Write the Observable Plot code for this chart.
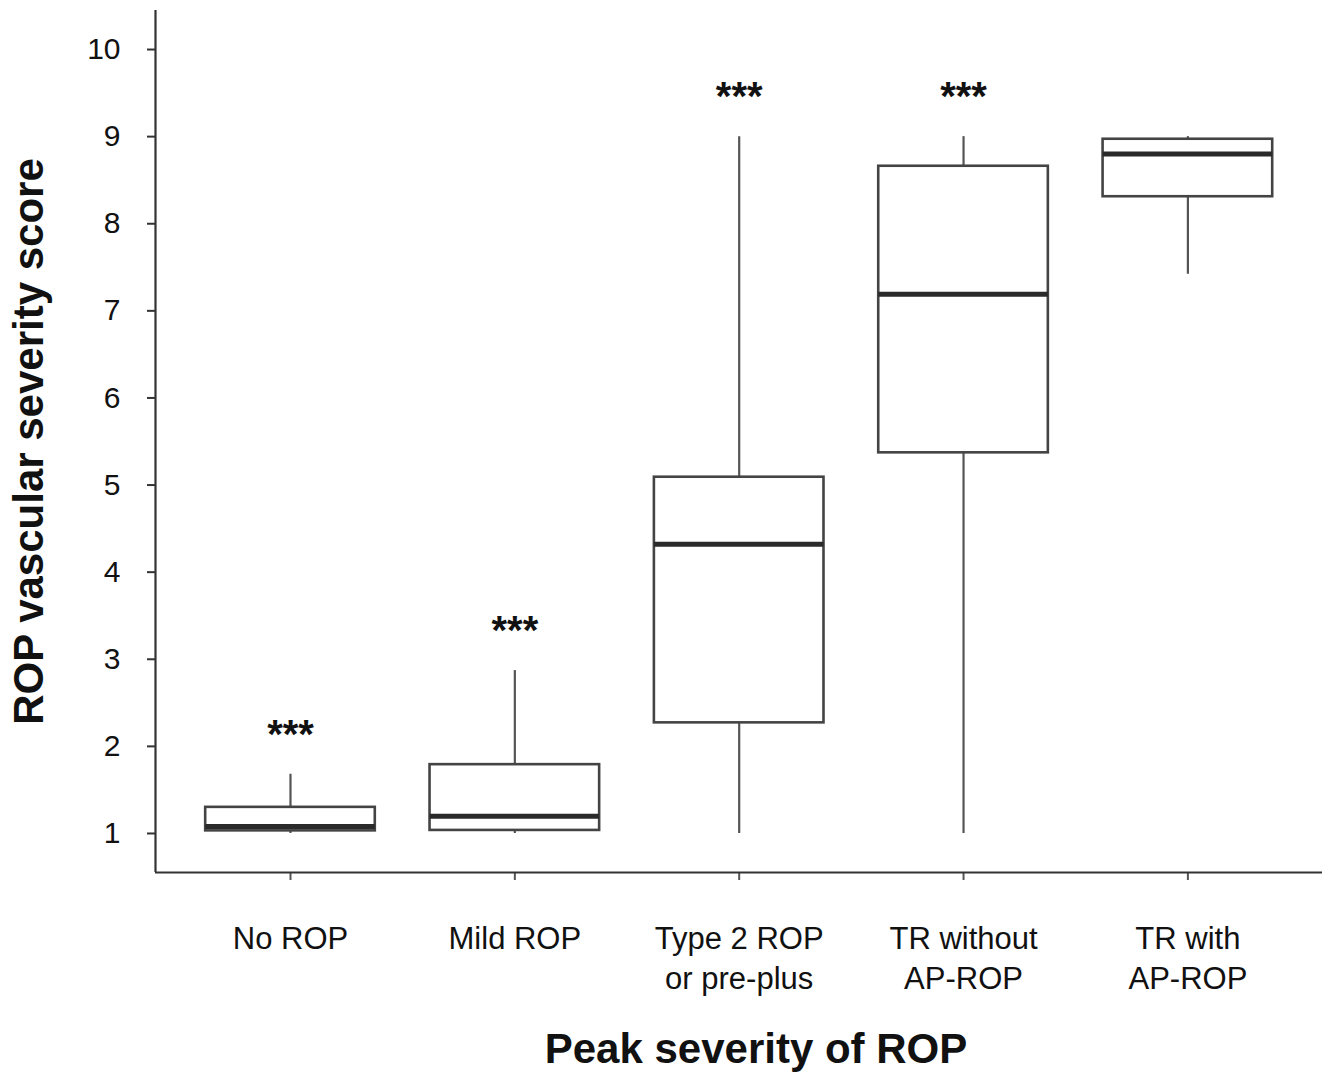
<!DOCTYPE html>
<html><head><meta charset="utf-8">
<script src="https://cdn.jsdelivr.net/npm/d3@7"></script>
<script src="https://cdn.jsdelivr.net/npm/@observablehq/plot@0.6"></script>
<style>body{margin:0;background:#fff;} svg{display:block}</style>
</head><body><div id="chart"></div>
<script>
const categories = ["No ROP", "Mild ROP", "Type 2 ROP\nor pre-plus", "TR without\nAP-ROP", "TR with\nAP-ROP"];
const whiskerLow  = [1.00, 1.00, 1.00, 1.00, 7.42];
const q1          = [1.03, 1.035, 2.27, 5.37, 8.31];
const median      = [1.08, 1.197, 4.32, 7.19, 8.80];
const q3          = [1.30, 1.79, 5.09, 8.66, 8.97];
const whiskerHigh = [1.68, 2.87, 9.00, 9.00, 9.00];
const significance = ["***", "***", "***", "***", ""];
const yTicks = [1, 2, 3, 4, 5, 6, 7, 8, 9, 10];
const yTitle = "ROP vascular severity score";
const xTitle = "Peak severity of ROP";

const rows = categories.map((c, i) => ({
  i, cat: c, lo: whiskerLow[i], q1: q1[i], med: median[i], q3: q3[i], hi: whiskerHigh[i], sig: significance[i]
}));
const half = 0.378;
const xDomain = [-0.6017, 4.60];
const yDomain = [0.552, 10.448];
const font = '"Liberation Sans", Arial, Helvetica, sans-serif';

const chart = Plot.plot({
  width: 1329, height: 1084,
  marginLeft: 155, marginRight: 7, marginTop: 10, marginBottom: 212,
  style: {fontFamily: font, color: "#111", background: "#fff", overflow: "visible"},
  x: {type: "linear", domain: xDomain},
  y: {type: "linear", domain: yDomain},
  marks: [
    Plot.axisY({ticks: yTicks, tickSize: 8, tickPadding: 27, fontSize: 30, label: null, stroke: "#333", strokeWidth: 2}),
    Plot.axisX({ticks: rows.map(d => d.i), tickFormat: i => categories[i], tickSize: 8, tickPadding: 40, fontSize: 31, lineHeight: 1.3, label: null, stroke: "#555", strokeWidth: 2}),
    Plot.ruleX([xDomain[0]], {stroke: "#333", strokeWidth: 2.2}),
    Plot.ruleY([yDomain[0]], {stroke: "#333", strokeWidth: 2.2}),
    // whiskers
    Plot.ruleX(rows, {x: "i", y1: "q3", y2: "hi", stroke: "#555", strokeWidth: 2.2}),
    Plot.ruleX(rows, {x: "i", y1: "lo", y2: "q1", stroke: "#555", strokeWidth: 2.2}),
    // boxes
    Plot.rect(rows, {x1: d => d.i - half, x2: d => d.i + half, y1: "q1", y2: "q3", fill: "white", stroke: "#444", strokeWidth: 2.6}),
    // medians
    Plot.ruleY(rows, {y: "med", x1: d => d.i - half, x2: d => d.i + half, stroke: "#2a2a2a", strokeWidth: 5}),
    // significance stars
    Plot.text(rows.filter(d => d.sig), {x: "i", y: d => d.hi + 0.45, text: "sig", fontSize: 40, fontWeight: "bold", fill: "#111", lineAnchor: "middle"}),
    // titles
    Plot.text([yTitle], {frameAnchor: "left", textAnchor: "middle", rotate: -90, dx: -126, text: d => d, fontSize: 42, fontWeight: "bold", fill: "#111", lineAnchor: "middle"}),
    Plot.text([xTitle], {frameAnchor: "bottom", textAnchor: "middle", dx: 17, dy: 190, text: d => d, fontSize: 42, fontWeight: "bold", fill: "#111", lineAnchor: "bottom"})
  ]
});
document.getElementById("chart").appendChild(chart);
</script>
</body></html>
